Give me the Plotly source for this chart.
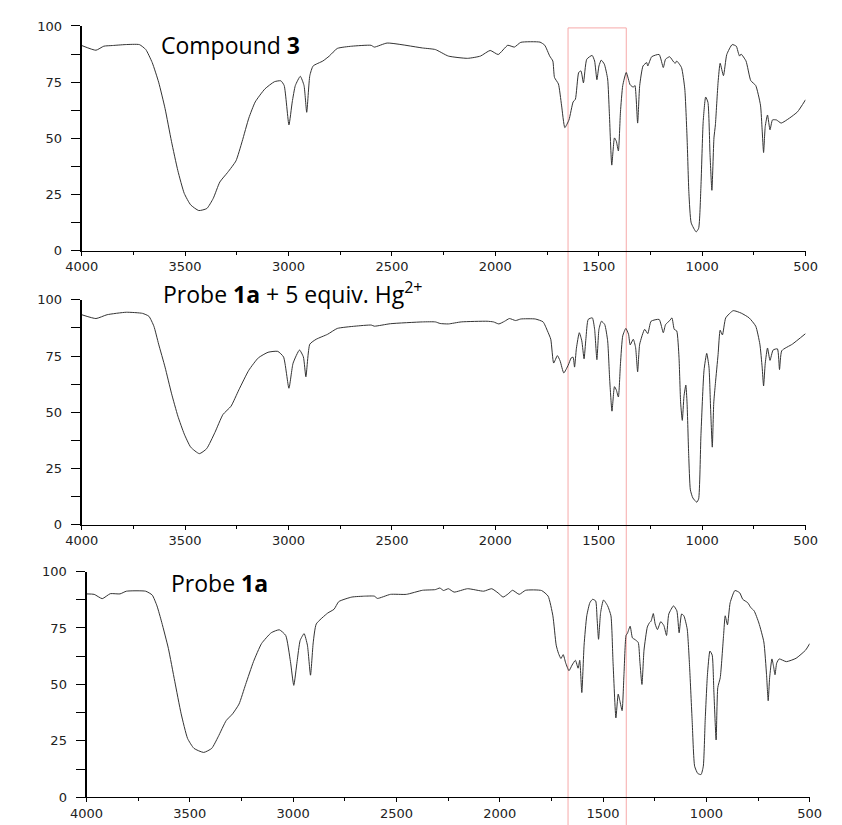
import plotly.graph_objects as go

# ---------------- data ----------------
wn_compound3 = [4000, 3931, 3893, 3850, 3790, 3721, 3690, 3659, 3628, 3597, 3566, 3535, 3504, 3473, 3434, 3395,
                3364, 3332, 3294, 3254, 3224, 3192, 3161, 3114, 3068, 3037, 3021, 2998, 2982, 2967, 2943, 2925,
                2912, 2897, 2881, 2834, 2803, 2764, 2694, 2601, 2585, 2523, 2352, 2290, 2227, 2134, 2072, 2025,
                1986, 1940, 1908, 1877, 1784, 1761, 1737, 1722, 1714, 1695, 1680, 1664, 1644, 1624, 1613, 1597,
                1586, 1574, 1558, 1532, 1520, 1509, 1499, 1488, 1473, 1457, 1449, 1437, 1424, 1415, 1405, 1395,
                1384, 1367, 1348, 1333, 1325, 1312, 1302, 1286, 1268, 1263, 1244, 1208, 1188, 1177, 1157, 1138,
                1130, 1123, 1100, 1084, 1073, 1064, 1053, 1029, 1017, 1006, 995, 983, 972, 962, 953, 943,
                936, 923, 913, 897, 881, 855, 835, 825, 819, 812, 788, 765, 741, 718, 710, 703,
                695, 684, 672, 660, 641, 618, 578, 539, 500]
t_compound3 = [91.3, 89.2, 91.0, 91.3, 91.7, 91.7, 89.5, 83.7, 75.0, 63.3, 48.7, 35.6, 25.5, 20.4, 17.9, 18.8,
               23.3, 30.6, 34.9, 40.0, 48.7, 59.0, 66.2, 72.0, 75.2, 75.6, 73.5, 56.0, 66.2, 73.5, 77.6, 73.5,
               61.6, 77.9, 82.2, 84.4, 86.6, 90.0, 91.0, 91.4, 90.6, 92.4, 90.2, 89.5, 86.6, 85.6, 86.6, 89.1,
               87.3, 91.4, 90.6, 92.7, 92.8, 91.4, 86.6, 84.4, 77.1, 74.2, 64.8, 54.8, 58.2, 66.2, 67.4, 79.3,
               80.0, 74.7, 85.2, 86.9, 84.4, 76.1, 82.2, 84.8, 83.0, 76.4, 61.8, 38.1, 50.2, 48.7, 44.4, 61.8,
               73.5, 79.3, 73.8, 72.8, 73.5, 56.8, 73.5, 82.2, 83.7, 82.2, 86.3, 87.3, 81.5, 85.2, 86.3, 84.0,
               83.4, 84.4, 81.5, 72.0, 50.2, 25.5, 12.4, 8.4, 10.0, 28.4, 57.5, 68.4, 66.0, 42.9, 26.9, 50.2,
               56.0, 75.0, 83.4, 77.9, 87.3, 91.7, 91.0, 88.0, 86.6, 87.5, 84.4, 75.7, 73.5, 64.8, 53.8, 43.7,
               55.3, 60.4, 53.8, 58.2, 58.2, 56.8, 59.0, 61.8, 67.2]

wn_probe_hg = [4000, 3931, 3877, 3784, 3706, 3675, 3651, 3628, 3597, 3566, 3535, 3504, 3473, 3431, 3396, 3356,
               3317, 3278, 3240, 3192, 3146, 3099, 3052, 3024, 2998, 2978, 2947, 2928, 2916, 2897, 2866, 2811,
               2764, 2679, 2600, 2585, 2507, 2352, 2290, 2267, 2227, 2165, 2040, 2009, 1983, 1955, 1932, 1902,
               1877, 1807, 1769, 1748, 1732, 1718, 1700, 1687, 1669, 1648, 1633, 1624, 1617, 1608, 1594, 1582,
               1571, 1562, 1551, 1531, 1520, 1509, 1499, 1487, 1471, 1457, 1447, 1436, 1424, 1415, 1405, 1395,
               1384, 1369, 1356, 1348, 1333, 1322, 1312, 1302, 1278, 1263, 1247, 1208, 1188, 1177, 1157, 1146,
               1135, 1123, 1112, 1104, 1096, 1088, 1079, 1073, 1065, 1057, 1045, 1026, 1017, 1006, 991, 978,
               967, 959, 951, 944, 936, 923, 913, 902, 886, 850, 811, 773, 741, 721, 710, 703,
               695, 684, 672, 657, 636, 626, 615, 564, 500]
t_probe_hg = [93.4, 91.7, 93.4, 94.5, 94.0, 92.7, 88.3, 80.3, 70.1, 58.5, 48.3, 40.3, 34.5, 31.6, 33.8, 41.0,
              49.0, 52.7, 60.0, 68.7, 74.2, 76.7, 77.1, 74.6, 60.7, 71.8, 77.7, 74.6, 65.8, 80.3, 82.5, 84.7,
              87.3, 88.3, 88.8, 88.3, 89.4, 90.2, 90.2, 89.5, 89.3, 90.2, 90.5, 90.2, 89.3, 90.5, 91.7, 90.8,
              91.5, 91.5, 90.2, 86.2, 82.5, 71.9, 75.2, 72.9, 67.5, 70.9, 74.2, 74.5, 70.1, 78.5, 85.4, 81.8,
              73.8, 82.8, 91.3, 92.0, 86.9, 73.4, 86.9, 90.5, 89.0, 81.8, 64.3, 50.5, 61.4, 59.9, 56.8, 71.6,
              84.0, 87.3, 84.7, 80.0, 82.5, 78.9, 68.0, 80.3, 86.9, 85.0, 90.5, 91.3, 85.4, 89.0, 90.8, 92.0,
              86.9, 86.2, 74.5, 54.1, 46.4, 57.0, 62.1, 54.1, 30.8, 15.5, 11.9, 10.0, 11.5, 39.6, 68.7, 76.2,
              70.1, 51.2, 34.5, 54.1, 62.8, 75.7, 86.5, 84.4, 92.0, 95.2, 94.1, 92.0, 88.3, 80.3, 70.1, 61.7,
              71.8, 78.6, 73.1, 77.7, 78.2, 69.0, 77.4, 80.3, 85.0]

wn_probe = [4000, 3963, 3924, 3885, 3838, 3807, 3714, 3682, 3659, 3636, 3604, 3573, 3542, 3511, 3480, 3433,
            3394, 3363, 3324, 3293, 3262, 3230, 3192, 3153, 3106, 3067, 3036, 3013, 2997, 2981, 2966, 2947,
            2931, 2916, 2903, 2888, 2833, 2802, 2779, 2716, 2654, 2607, 2592, 2529, 2452, 2374, 2312, 2290,
            2272, 2249, 2221, 2156, 2078, 2039, 2008, 1984, 1961, 1938, 1906, 1875, 1798, 1766, 1743, 1727,
            1716, 1704, 1693, 1681, 1665, 1650, 1634, 1621, 1613, 1603, 1592, 1579, 1564, 1551, 1536, 1529,
            1522, 1512, 1498, 1478, 1462, 1452, 1438, 1427, 1419, 1408, 1399, 1389, 1382, 1369, 1358, 1346,
            1330, 1322, 1312, 1302, 1286, 1276, 1268, 1257, 1248, 1237, 1221, 1206, 1193, 1182, 1159, 1143,
            1132, 1120, 1109, 1093, 1081, 1069, 1057, 1042, 1026, 1015, 1006, 995, 983, 972, 964, 953,
            945, 933, 917, 909, 898, 885, 862, 839, 824, 800, 785, 769, 746, 722, 709, 701,
            694, 683, 675, 668, 660, 648, 613, 566, 520, 500]
t_probe = [90.1, 89.9, 88.0, 90.2, 90.1, 91.3, 91.3, 89.6, 84.8, 77.5, 66.0, 51.4, 37.0, 26.1, 21.7, 19.9,
           21.7, 26.8, 34.0, 37.0, 41.3, 50.0, 60.1, 68.1, 72.9, 74.2, 71.7, 60.1, 49.6, 60.1, 69.5, 72.5,
           67.4, 54.1, 68.4, 76.8, 81.6, 83.3, 86.7, 88.7, 89.1, 89.1, 88.1, 89.9, 89.9, 91.7, 92.0, 92.7,
           91.6, 92.4, 90.9, 92.4, 91.3, 92.4, 90.5, 88.7, 90.0, 91.7, 89.9, 91.7, 91.6, 89.1, 80.4, 67.4,
           63.8, 61.5, 63.2, 59.5, 56.1, 58.6, 60.7, 57.2, 60.7, 46.4, 67.4, 80.4, 86.2, 87.7, 87.0, 79.0,
           70.0, 81.8, 87.4, 84.8, 80.4, 60.1, 35.2, 45.7, 42.8, 38.4, 54.3, 71.7, 72.7, 75.8, 70.6, 69.9,
           68.6, 60.1, 50.0, 65.2, 75.4, 77.3, 78.0, 81.4, 76.8, 74.3, 77.8, 76.1, 71.7, 81.2, 84.8, 82.6,
           72.9, 81.2, 80.4, 74.6, 57.2, 34.0, 13.8, 10.6, 10.1, 13.8, 34.0, 54.3, 64.8, 63.0, 47.1, 25.4,
           48.6, 53.0, 71.7, 80.4, 76.4, 86.2, 91.6, 90.6, 87.7, 86.2, 84.0, 82.6, 77.2, 68.8, 54.3, 42.8,
           53.0, 61.3, 58.0, 54.3, 59.4, 61.3, 60.1, 61.6, 65.2, 68.1]

x_tickvals = [4000, 3500, 3000, 2500, 2000, 1500, 1000, 500]
x_ticktext = ["4000", "3500", "3000", "2500", "2000", "1500", "1000", "500"]
x_minorvals = [3750, 3250, 2750, 2250, 1750, 1250, 750]
y_tickvals = [0, 25, 50, 75, 100]
y_ticktext = ["0", "25", "50", "75", "100"]
y_minorvals = [12.5, 37.5, 62.5, 87.5]

titles = ["Compound <b>3</b>", "Probe <b>1a</b> + 5 equiv. Hg<sup>2+</sup>", "Probe <b>1a</b>"]

# ---------------- layout geometry ----------------
W, H = 842, 825

def px_x(p):
    return p / W

def px_y(p):
    return 1 - p / H

panels = [
    dict(x=(67, 816.7), y=(19.3, 248.3), title_xy=(147, 39)),
    dict(x=(67, 816.7), y=(298.3, 527.3), title_xy=(149, 291)),
    dict(x=(72, 821), y=(575, 805), title_xy=(157, 587)),
]
series = [(wn_compound3, t_compound3), (wn_probe_hg, t_probe_hg), (wn_probe, t_probe)]

fig = go.Figure()
tick_font = dict(family="DejaVu Sans", size=13, color="#222222")

for i, (p, (wn, t)) in enumerate(zip(panels, series)):
    n = "" if i == 0 else str(i + 1)
    fig.add_trace(go.Scatter(x=wn, y=t, mode="lines", xaxis="x" + n, yaxis="y" + n,
                             line=dict(color="#333333", width=1, shape="spline", smoothing=0.5),
                             showlegend=False, hoverinfo="skip"))
    fig.layout["xaxis" + n] = dict(
        domain=[px_x(p["x"][0]), px_x(p["x"][1])], anchor="y" + n,
        range=[4000, 500], tickvals=x_tickvals, ticktext=x_ticktext,
        ticks="outside", ticklen=4, tickwidth=1, tickcolor="black",
        minor=dict(tickvals=x_minorvals, ticks="outside", ticklen=3, tickwidth=1,
                   tickcolor="black", showgrid=False),
        showline=True, linecolor="black", linewidth=1, showgrid=False, zeroline=False,
        tickfont=tick_font, ticklabelstandoff=0,
    )
    fig.layout["yaxis" + n] = dict(
        domain=[px_y(p["y"][1]), px_y(p["y"][0])], anchor="x" + n,
        range=[0, 100], tickvals=y_tickvals, ticktext=y_ticktext,
        ticks="outside", ticklen=9, tickwidth=1, tickcolor="black",
        minor=dict(tickvals=y_minorvals, ticks="outside", ticklen=9, tickwidth=1,
                   tickcolor="black", showgrid=False),
        showline=True, linecolor="black", linewidth=2, showgrid=False, zeroline=False,
        tickfont=tick_font, ticklabelstandoff=6,
    )
    fig.add_annotation(text=titles[i], xref="paper", yref="paper",
                       x=px_x(p["title_xy"][0]), y=px_y(p["title_xy"][1]),
                       xanchor="left", yanchor="middle", showarrow=False,
                       font=dict(family="Open Sans", size=23, color="black"))

# pink highlight box (open at the bottom)
bx0, bx1, btop = px_x(570.7), px_x(631), px_y(21.3)
fig.add_shape(type="path", xref="paper", yref="paper",
              path=f"M {bx0} -0.02 L {bx0} {btop} L {bx1} {btop} L {bx1} -0.02",
              line=dict(color="rgb(246,170,170)", width=1), layer="below")

fig.update_layout(width=W, height=H, margin=dict(l=0, r=0, t=0, b=0),
                  paper_bgcolor="white", plot_bgcolor="rgba(0,0,0,0)")

fig.write_html("out.html")
